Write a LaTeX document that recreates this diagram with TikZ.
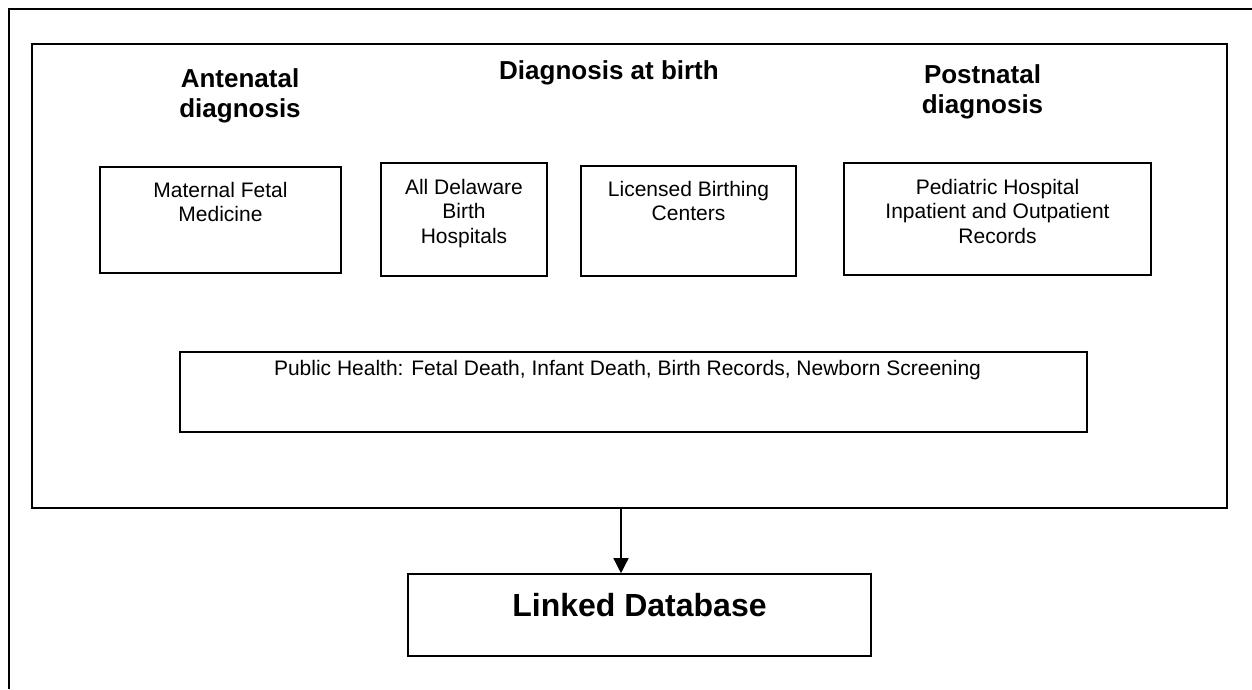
\documentclass[tikz,border=0pt]{standalone}
\usepackage{fontspec}
\setmainfont{Liberation Sans}
\usetikzlibrary{arrows.meta}
\newcommand{\bodyfont}{\fontsize{21}{24.2}\selectfont}
\newcommand{\headfont}{\fontsize{26}{30}\selectfont\bfseries}
\newcommand{\dbfont}{\fontsize{32}{37}\selectfont\bfseries}
\begin{document}
\begin{tikzpicture}[x=1pt,y=-1pt,
  box/.style={draw, line width=1.6pt, inner sep=0pt, rectangle},
  txt/.style={inner sep=0pt, align=center, font=\bodyfont},
  head/.style={inner sep=0pt, align=center, font=\headfont},
  conn/.style={line width=1.4pt, -{Triangle[width=15pt,length=15pt]}}]
\useasboundingbox (0,0) rectangle (1252,689);
% outer frame (top and left edges visible)
\coordinate (frameTR) at (1252,9);
\coordinate (frameTL) at (9,9);
\coordinate (frameBL) at (9,689);
\draw[line width=2pt] (frameTR) -- (frameTL) -- (frameBL);
% inner frame
\node[box, minimum width=1195, minimum height=464] (inner) at (629.5,276) {};
% headings
\node[head, anchor=north] (hAnte) at (240,68.4) {Antenatal\\diagnosis};
\node[head, anchor=base] (hBirth) at (609,79) {Diagnosis at birth};
\node[head, anchor=north] (hPost) at (982.5,64.4) {Postnatal\\diagnosis};
% source boxes
\node[box, minimum width=241, minimum height=106] (mfm) at (220.5,220) {};
\node[txt, anchor=north] (mfmT) at (220.5,182.3) {Maternal Fetal\\Medicine};
\node[box, minimum width=166, minimum height=113] (del) at (464,219.5) {};
\node[txt, anchor=north] (delT) at (464,179.3) {All Delaware\\Birth\\Hospitals};
\node[box, minimum width=215, minimum height=110] (lic) at (688.5,221) {};
\node[txt, anchor=north] (licT) at (688.5,181) {Licensed Birthing\\Centers};
\node[box, minimum width=307, minimum height=112] (ped) at (997.5,219) {};
\node[txt, anchor=north] (pedT) at (997.5,179.3) {Pediatric Hospital\\Inpatient and Outpatient\\Records};
\node[box, minimum width=907, minimum height=80] (pub) at (633.5,392) {};
\node[txt, anchor=base] (pubT) at (627.5,375.7) {Public Health: Fetal Death, Infant Death, Birth Records, Newborn Screening};
% linked database
\node[box, minimum width=463, minimum height=82] (db) at (639.5,615) {};
\node[inner sep=0pt, font=\dbfont, anchor=base] (dbT) at (639.5,616) {Linked Database};
% connector
\coordinate (arrStart) at (621,508);
\draw[conn] (arrStart) -- (arrStart |- db.north);
\end{tikzpicture}
\end{document}
